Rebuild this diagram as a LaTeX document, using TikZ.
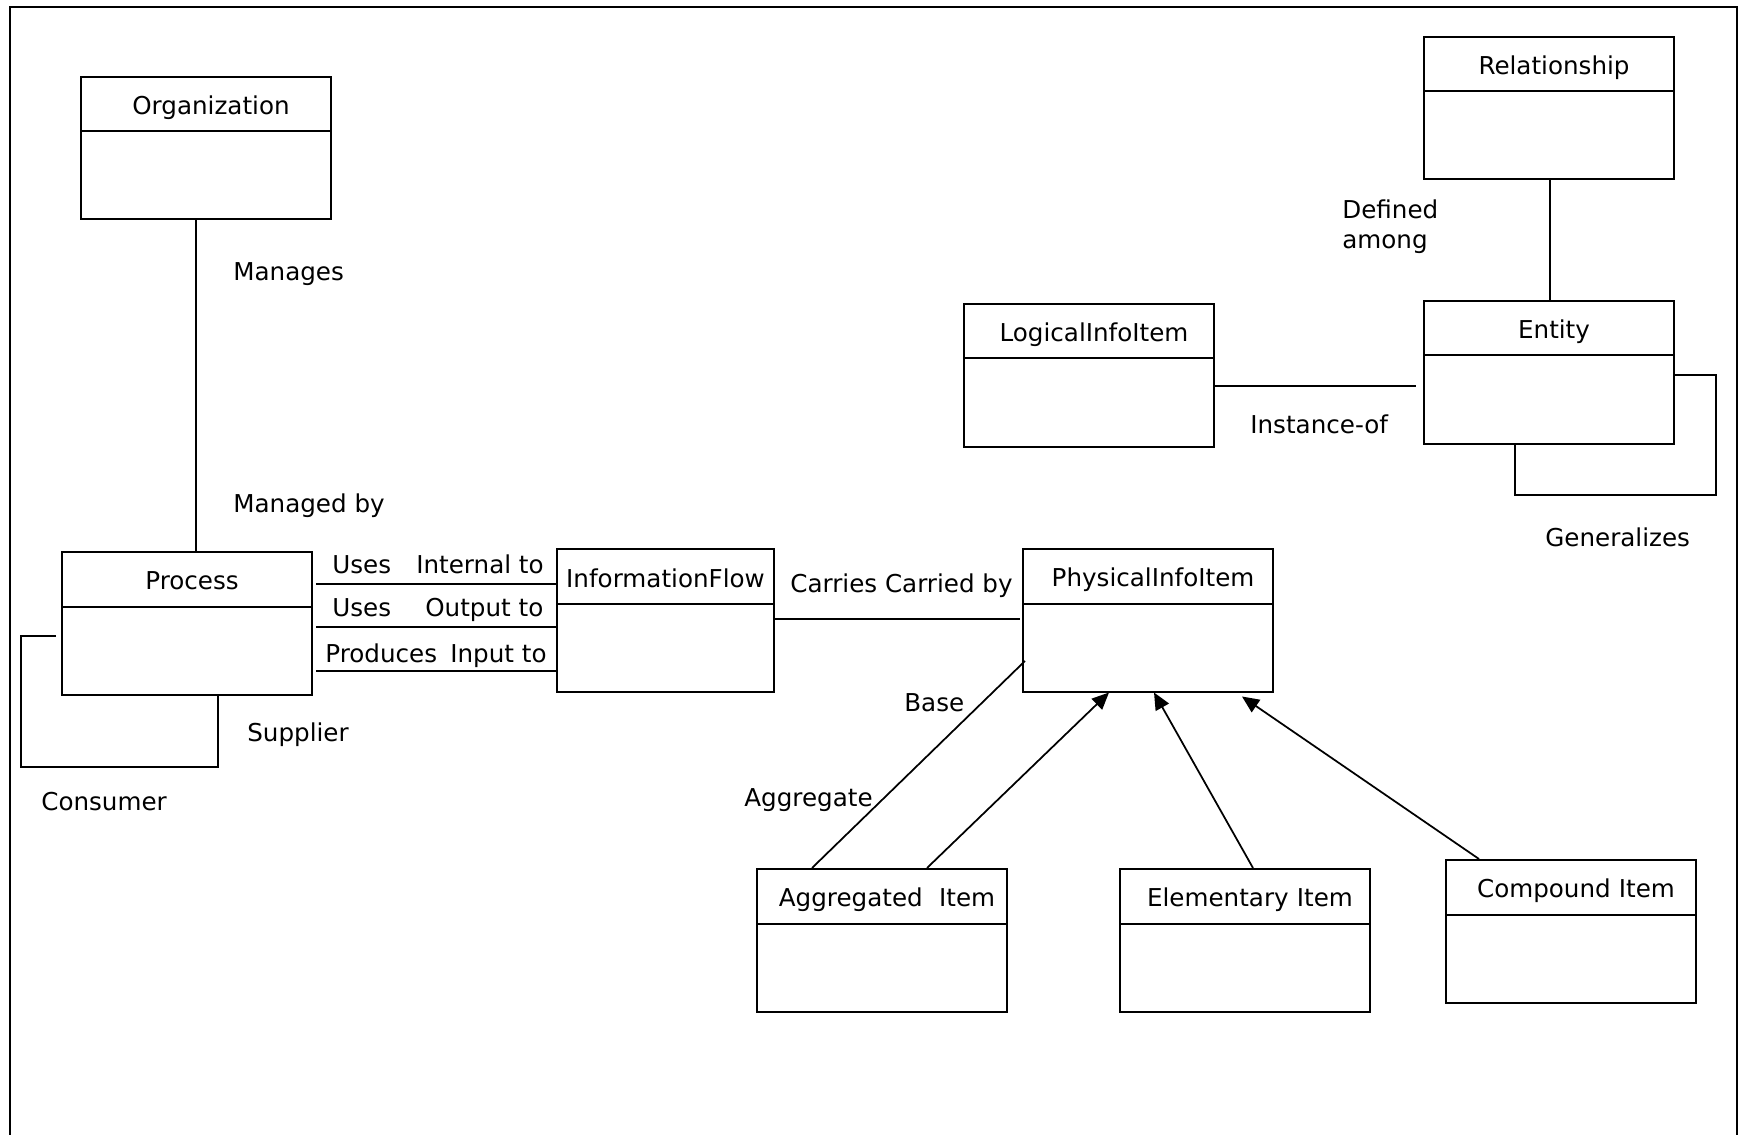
\documentclass[tikz,border=0pt]{standalone}
\usepackage{fontspec}
\setmainfont{DejaVu Sans}
\usetikzlibrary{shapes.multipart,arrows.meta,calc}
\newcommand{\clshead}{\hspace*{2mm}\rule[-3.2mm]{0pt}{10.5mm}}
\newcommand{\clsheadtight}{\rule[-3.0mm]{0pt}{10.5mm}}
\newcommand{\clsbody}{\rule{0pt}{17.2mm}}

\begin{document}
\begin{tikzpicture}[
  x=0.2mm, y=-0.2mm,
  font=\fontsize{14}{18}\selectfont,
  cls/.style={draw,line width=0.4mm,rectangle split,rectangle split parts=2,
              text width=50mm,align=center,inner xsep=0pt,inner ysep=0pt,
              anchor=north west},
  ln/.style={line width=0.35mm},
  isa/.style={ln,-{Triangle[length=3.4mm,width=3mm]}},
  lbl/.style={inner sep=0pt,anchor=base west}]

\useasboundingbox (0,0) rectangle (1744,1135);
\draw[line width=0.4mm] (10,1135) -- (10,7) -- (1737,7) -- (1737,1135);

% classes
\node[cls] (org) at (80,76) {\clshead Organization\nodepart{second}\clsbody};
\node[cls] (rel) at (1423,36) {\clshead Relationship\nodepart{second}\clsbody};
\node[cls] (ent) at (1423,300) {\clshead Entity\nodepart{second}\clsbody};
\node[cls] (logi) at (963,303) {\clshead LogicalInfoItem\nodepart{second}\clsbody};
\node[cls] (proc) at (61,551) {\clshead Process\nodepart{second}\clsbody};
\node[cls,text width=43.4mm] (flow) at (556,548) {\clsheadtight InformationFlow\nodepart{second}\clsbody};
\node[cls] (phys) at (1022,548) {\clshead PhysicalInfoItem\nodepart{second}\clsbody};
\node[cls] (agg) at (756,868) {\clshead Aggregated\ \ Item\nodepart{second}\clsbody};
\node[cls] (elem) at (1119,868) {\clshead Elementary Item\nodepart{second}\clsbody};
\node[cls] (comp) at (1445,859) {\clshead Compound Item\nodepart{second}\clsbody};

% associations
\draw[ln] ($(org.south west)+(116,0)$) coordinate (om) -- (om |- proc.north);
\draw[ln] ($(rel.south west)+(127,0)$) coordinate (rm) -- (rm |- ent.north);
\draw[ln] ($(logi.north east)+(0,83)$) coordinate (lm) -- ($(lm -| ent.west)+(-7,0)$);
\draw[ln] ($(ent.north east)+(0,75)$) -| ++(41,120) -| ($(ent.south west)+(92,0)$);
\draw[ln] ($(proc.north west)+(-5,85)$) -| ++(-35,131) -| ($(proc.south west)+(157,-2)$);
\draw[ln] ($(proc.north east)+(3,33)$) coordinate (u1) -- (u1 -| flow.west);
\draw[ln] ($(proc.north east)+(3,76)$) coordinate (u2) -- (u2 -| flow.west);
\draw[ln] ($(proc.north east)+(3,120)$) coordinate (u3) -- (u3 -| flow.west);
\draw[ln] ($(flow.north east)+(-2,71)$) coordinate (fm) -- ($(fm -| phys.west)+(-2,0)$);
\draw[ln] ($(agg.north west)+(56,0)$) -- ($(phys.north west)+(3,113)$);

% specialisations
\draw[isa] ($(agg.north west)+(171,0)$) -- ($(phys.south west)+(87,0)$);
\draw[isa] ($(elem.north west)+(134,0)$) -- ($(phys.south west)+(132,0)$);
\draw[isa] ($(comp.north west)+(34,0)$) -- ($(phys.south west)+(220,4)$);

% role names
\node[lbl] (lManages) at (233,281) {Manages};
\node[lbl] (lManagedBy) at (233,513) {Managed by};
\node[lbl] (lDefined) at (1342,219) {Defined};
\node[lbl] (lAmong) at (1342,249) {among};
\node[lbl] (lInstance) at (1250,434) {Instance-of};
\node[lbl] (lGen) at (1545,547) {Generalizes};
\node[lbl] (lUses1) at (332,574) {Uses};
\node[lbl] (lInternal) at (416,574) {Internal to};
\node[lbl] (lUses2) at (332,617) {Uses};
\node[lbl] (lOutput) at (425,617) {Output to};
\node[lbl] (lProduces) at (325,662) {Produces};
\node[lbl] (lInput) at (450,662) {Input to};
\node[lbl] (lCarries) at (790,593) {Carries Carried by};
\node[lbl] (lBase) at (904,711) {Base};
\node[lbl] (lAggregate) at (744,806) {Aggregate};
\node[lbl] (lSupplier) at (247,741) {Supplier};
\node[lbl] (lConsumer) at (41,810) {Consumer};
\end{tikzpicture}
\end{document}
